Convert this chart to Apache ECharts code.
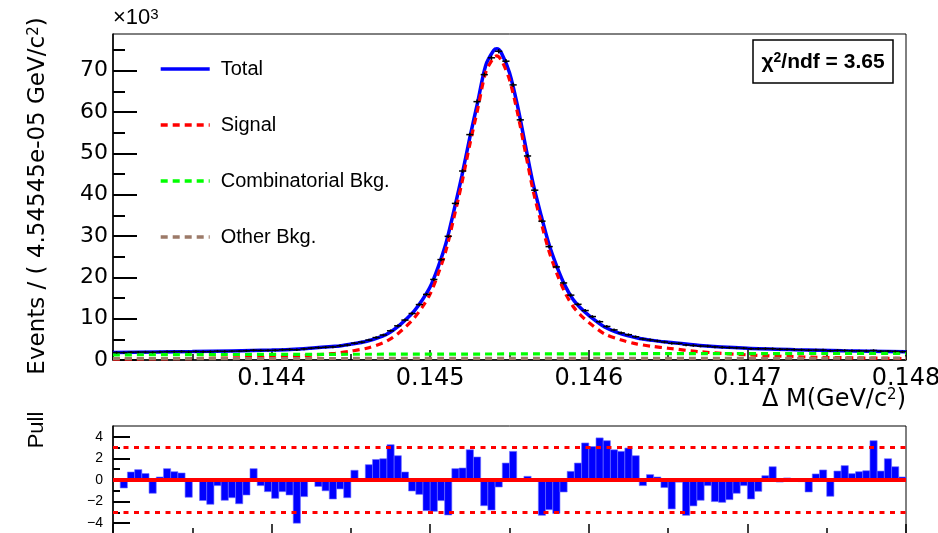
<!DOCTYPE html>
<html>
<head>
<meta charset="utf-8">
<script src="https://cdn.jsdelivr.net/npm/echarts@6/dist/echarts.min.js"></script>
<style>
html, body { margin: 0; padding: 0; background: #fff; }
#chart { width: 938px; height: 533px; }
</style>
</head>
<body>
<div id="chart"></div>
<script>
var xMin = 0.143, xMax = 0.148, binWidth = 4.54545e-05;
var font = 'Liberation Sans, Arial, Helvetica, sans-serif';
var wideFont = 'DejaVu Sans, Liberation Sans, sans-serif';

// fit curves sampled along Delta M (GeV), values in 10^3 events
var curveX = [0.1430, 0.1435, 0.1440, 0.1442, 0.1444, 0.1445, 0.1446, 0.1447, 0.14475, 0.1448,
    0.14485, 0.1449, 0.14495, 0.1450, 0.14505, 0.1451, 0.14515, 0.1452, 0.14525, 0.1453,
    0.14535, 0.1454, 0.14542, 0.14545, 0.1455, 0.14555, 0.1456, 0.14565, 0.1457, 0.14575,
    0.1458, 0.14585, 0.1459, 0.14595, 0.1460, 0.1461, 0.1462, 0.1463, 0.1464, 0.1465,
    0.1467, 0.1470, 0.1473, 0.1476, 0.1480];
var totalFit = [1.80, 2.05, 2.40, 2.75, 3.30, 3.85, 4.55, 5.80, 6.80, 8.20,
    9.90, 11.9, 14.5, 17.7, 22.5, 28.3, 36.2, 44.6, 53.9, 62.5,
    71.3, 74.9, 75.3, 74.2, 69.5, 61.6, 52.0, 42.5, 34.9, 27.9,
    22.5, 18.0, 14.7, 12.5, 10.8, 8.0, 6.4, 5.4, 4.75, 4.30,
    3.50, 2.85, 2.50, 2.25, 2.00];
var signalFit = [0.20, 0.35, 0.70, 1.05, 1.60, 2.15, 2.85, 4.10, 5.10, 6.50,
    8.20, 10.2, 12.8, 16.0, 20.8, 26.6, 34.5, 42.9, 52.2, 60.8,
    69.6, 73.2, 73.6, 72.5, 67.8, 59.9, 50.3, 40.8, 33.2, 26.2,
    20.8, 16.3, 13.0, 10.8, 9.1, 6.3, 4.9, 3.9, 3.3, 2.85,
    2.0, 1.25, 0.8, 0.55, 0.35];
var bkgX = [0.143, 0.144, 0.145, 0.146, 0.147, 0.148];
var combBkg = [1.25, 1.35, 1.42, 1.50, 1.55, 1.60];
var otherBkg = [0.35, 0.36, 0.38, 0.40, 0.42, 0.44];

// events per bin (10^3), 110 bins
var dataCounts = [1.81, 1.80, 1.89, 1.92, 1.93, 1.88, 1.96, 2.02, 2.02, 2.05,
    1.97, 2.07, 2.01, 2.03, 2.14, 2.10, 2.15, 2.16, 2.22, 2.37,
    2.32, 2.33, 2.36, 2.47, 2.53, 2.47, 2.68, 2.88, 2.98, 3.08,
    3.16, 3.43, 3.62, 4.07, 4.33, 4.82, 5.43, 6.05, 7.07, 8.27,
    9.66, 11.25, 13.41, 15.87, 19.49, 24.30, 29.93, 37.90, 45.74, 54.55,
    62.53, 69.07, 73.14, 74.72, 72.32, 66.58, 58.12, 49.38, 41.10, 33.60,
    27.44, 22.53, 18.65, 15.70, 13.48, 11.97, 10.51, 9.27, 8.12, 7.29,
    6.56, 6.13, 5.62, 5.09, 4.87, 4.62, 4.35, 4.03, 4.02, 3.65,
    3.51, 3.37, 3.36, 3.17, 3.07, 3.00, 2.93, 2.87, 2.73, 2.72,
    2.74, 2.72, 2.60, 2.57, 2.51, 2.46, 2.38, 2.42, 2.41, 2.25,
    2.32, 2.30, 2.24, 2.22, 2.20, 2.30, 2.14, 2.16, 2.10, 2.02];

var pulls = [0, -0.74, 0.74, 0.96, 0.6, -1.23, 0.28, 1.05, 0.77, 0.65,
    -1.6, 0, -1.9, -2.25, -0.52, -1.88, -1.64, -2.2, -1.39, 1.05,
    -0.52, -1.08, -1.7, -1.08, -1.39, -4.0, -1.54, -0.1, -0.6, -1.0,
    -1.76, -0.83, -1.64, 0.9, 0, 1.42, 1.9, 1.97, 3.27, 2.25,
    0.74, -1.02, -1.33, -2.84, -2.9, -1.91, -3.24, 1.05, 1.11, 2.8,
    2.13, -2.38, -2.78, -0.65, 1.57, 2.65, 0.1, 0.34, 0, -3.27,
    -2.75, -3.1, -1.11, 0.8, 1.57, 3.43, 3.1, 3.9, 3.64, 2.8,
    2.65, 2.96, 2.25, -0.52, 0.5, 0.28, -0.7, -2.68, -0.2, -3.27,
    -2.4, -1.88, -0.52, -2.0, -2.07, -1.82, -1.23, -0.52, -1.76, -1.05,
    0.4, 1.23, -0.19, 0.19, 0, -0.15, -1.11, 0.56, 0.93, -1.51,
    0.83, 1.33, 0.59, 0.77, 0.86, 3.64, 0.83, 1.97, 1.23, 0.28];

var yMajor = [0, 10, 20, 30, 40, 50, 60, 70];
var yMinor = [5, 15, 25, 35, 45, 55, 65, 75];
var pullMajor = [-4, -2, 0, 2, 4];
var pullMinor = [-3, -1, 1, 3];

function zip(a, b) {
    return a.map(function (v, i) { return [v, b[i]]; });
}

var chart = echarts.init(document.getElementById('chart'));

var tickStyle = { color: '#000', width: 1.5 };

var option = {
    animation: false,
    textStyle: { fontFamily: font },
    grid: [
        { left: 113, right: 32, top: 34, height: 326, show: true, borderColor: '#000', borderWidth: 1, outerBoundsMode: 'none', containLabel: false },
        { left: 113, right: 32, top: 426, height: 108, show: true, borderColor: '#000', borderWidth: 1, outerBoundsMode: 'none', containLabel: false }
    ],
    xAxis: [
        {
            type: 'value', gridIndex: 0, min: xMin, max: xMax, interval: 0.001,
            axisLine: { onZero: false, lineStyle: { color: '#000', width: 1.5 } },
            axisTick: { inside: true, length: 10, lineStyle: tickStyle },
            minorTick: { show: true, splitNumber: 2, length: 6, lineStyle: tickStyle },
            splitLine: { show: false },
            axisLabel: {
                showMinLabel: false, showMaxLabel: true,
                color: '#000', fontSize: 24, fontFamily: wideFont, margin: 7,
                formatter: function (v) { return v < 0.1435 ? '' : v.toFixed(3); }
            }
        },
        {
            type: 'value', gridIndex: 1, min: xMin, max: xMax, interval: 0.001,
            axisLine: { onZero: false, lineStyle: { color: '#000', width: 1.5 } },
            axisTick: { inside: true, length: 10, lineStyle: tickStyle },
            minorTick: { show: true, splitNumber: 2, length: 6, lineStyle: tickStyle },
            splitLine: { show: false },
            axisLabel: { show: false }
        }
    ],
    yAxis: [
        {
            type: 'value', gridIndex: 0, position: 'left', min: 0, max: 78.9,
            axisLine: { show: true, lineStyle: { color: '#000', width: 1.5 } },
            axisTick: { show: true, inside: true, length: 24, customValues: yMajor, lineStyle: { color: '#000', width: 2 } },
            axisLabel: { customValues: yMajor, color: '#000', fontSize: 22, fontFamily: wideFont, margin: 5 },
            splitLine: { show: false }
        },
        {
            type: 'value', gridIndex: 0, position: 'left', min: 0, max: 78.9,
            axisLine: { show: false },
            axisTick: { show: true, inside: true, length: 12, customValues: yMinor, lineStyle: { color: '#000', width: 2 } },
            axisLabel: { show: false },
            splitLine: { show: false }
        },
        {
            type: 'value', gridIndex: 1, position: 'left', min: -5, max: 5,
            axisLine: { show: true, lineStyle: { color: '#000', width: 1.5 } },
            axisTick: { show: true, inside: true, length: 17, customValues: pullMajor, lineStyle: { color: '#000', width: 2 } },
            axisLabel: {
                customValues: pullMajor, color: '#000', fontSize: 14, fontFamily: font, margin: 10,
                formatter: function (v) { return v < 0 ? '\u2212' + (-v) : String(v); }
            },
            splitLine: { show: false }
        },
        {
            type: 'value', gridIndex: 1, position: 'left', min: -5, max: 5,
            axisLine: { show: false },
            axisTick: { show: true, inside: true, length: 7, customValues: pullMinor, lineStyle: { color: '#000', width: 2 } },
            axisLabel: { show: false },
            splitLine: { show: false }
        }
    ],
    legend: {
        data: ['Total', 'Signal', 'Combinatorial Bkg.', 'Other Bkg.'],
        orient: 'vertical', left: 159, top: 58, padding: 0,
        itemWidth: 49, itemHeight: 14, itemGap: 34,
        selectedMode: false,
        itemStyle: { opacity: 0 },
        lineStyle: { width: 3.4 },
        textStyle: { color: '#000', fontSize: 20, fontFamily: font, lineHeight: 22, padding: [0, 0, 0, 6] }
    },
    series: [
        {
            name: 'Total', type: 'line', xAxisIndex: 0, yAxisIndex: 0,
            data: zip(curveX, totalFit), smooth: 0.3, symbol: 'none', z: 3,
            lineStyle: { color: '#0000ff', width: 3.5 }, itemStyle: { color: '#0000ff' }
        },
        {
            name: 'Signal', type: 'line', xAxisIndex: 0, yAxisIndex: 0,
            data: zip(curveX, signalFit), smooth: 0.3, symbol: 'none', z: 4,
            lineStyle: { color: '#ff0000', width: 3.2, type: [7, 5] }, itemStyle: { color: '#ff0000' }
        },
        {
            name: 'Combinatorial Bkg.', type: 'line', xAxisIndex: 0, yAxisIndex: 0,
            data: zip(bkgX, combBkg), smooth: true, symbol: 'none', z: 4,
            lineStyle: { color: '#00ff00', width: 3.2, type: [7, 5] }, itemStyle: { color: '#00ff00' }
        },
        {
            name: 'Other Bkg.', type: 'line', xAxisIndex: 0, yAxisIndex: 0,
            data: zip(bkgX, otherBkg), smooth: true, symbol: 'none', z: 4,
            lineStyle: { color: '#9c7a68', width: 3.2, type: [7, 5] }, itemStyle: { color: '#9c7a68' }
        },
        {
            name: 'Data', type: 'custom', xAxisIndex: 0, yAxisIndex: 0, z: 5,
            data: dataCounts.map(function (v, i) { return [xMin + (i + 0.5) * binWidth, v]; }),
            encode: { x: 0, y: 1 },
            renderItem: function (params, api) {
                var x = api.value(0), v = api.value(1);
                var err = Math.sqrt(v * 1000) / 1000;
                var left = api.coord([x - binWidth / 2, v]);
                var right = api.coord([x + binWidth / 2, v]);
                var top = api.coord([x, v + err]);
                var bottom = api.coord([x, v - err]);
                var st = { stroke: '#000', lineWidth: 1.5 };
                return {
                    type: 'group',
                    children: [
                        { type: 'line', shape: { x1: left[0], y1: left[1], x2: right[0], y2: right[1] }, style: st },
                        { type: 'line', shape: { x1: top[0], y1: top[1] - 1, x2: bottom[0], y2: bottom[1] + 1 }, style: st }
                    ]
                };
            }
        },
        {
            name: 'Pull', type: 'custom', xAxisIndex: 1, yAxisIndex: 2, z: 3,
            data: pulls.map(function (p, i) { return [xMin + i * binWidth, xMin + (i + 1) * binWidth, p]; }),
            encode: { x: [0, 1], y: 2 },
            renderItem: function (params, api) {
                var p0 = api.coord([api.value(0), 0]);
                var p1 = api.coord([api.value(1), api.value(2)]);
                return {
                    type: 'rect',
                    shape: { x: p0[0], y: Math.min(p0[1], p1[1]), width: p1[0] - p0[0], height: Math.abs(p1[1] - p0[1]) },
                    style: { fill: '#0000ff', stroke: '#6f6fff', lineWidth: 0.6 }
                };
            },
            markLine: {
                silent: true, symbol: 'none', label: { show: false }, z: 6,
                data: [
                    { yAxis: 0, lineStyle: { color: '#ff0000', width: 4, type: 'solid' } },
                    { yAxis: 3, lineStyle: { color: '#ff0000', width: 3, type: [5, 5.5] } },
                    { yAxis: -3, lineStyle: { color: '#ff0000', width: 3, type: [5, 5.5] } }
                ]
            }
        }
    ],
    graphic: [
        {
            type: 'text', left: 113, top: 7,
            style: {
                text: '\u00d710{s|3}', fill: '#000', font: '22px ' + font,
                rich: { s: { fontSize: 15, verticalAlign: 'top', fontFamily: font } }
            }
        },
        {
            type: 'text', x: 38, y: 196, rotation: Math.PI / 2,
            style: {
                text: 'Events / ( 4.54545e-05 GeV/c{s|2})', fill: '#000', font: '23px ' + wideFont,
                align: 'center', verticalAlign: 'middle',
                rich: { s: { fontSize: 15, verticalAlign: 'top', fontFamily: wideFont } }
            }
        },
        {
            type: 'text', x: 906, y: 400,
            style: {
                text: '\u0394 M(GeV/c{s|2})', fill: '#000', font: '24px ' + wideFont,
                align: 'right', verticalAlign: 'middle',
                rich: { s: { fontSize: 15, verticalAlign: 'top', fontFamily: wideFont } }
            }
        },
        {
            type: 'text', x: 37, y: 430, rotation: Math.PI / 2,
            style: { text: 'Pull', fill: '#000', font: '22px ' + font, align: 'center', verticalAlign: 'middle' }
        },
        {
            type: 'rect', shape: { x: 753, y: 40, width: 140, height: 43 },
            style: { fill: '#fff', stroke: '#000', lineWidth: 1.5 }, z: 10
        },
        {
            type: 'text', x: 823, y: 62, z: 11,
            style: {
                text: '\u03c7{s|2}/ndf = 3.65', fill: '#000', font: 'bold 21px ' + font,
                align: 'center', verticalAlign: 'middle',
                rich: { s: { fontSize: 14, fontWeight: 'bold', verticalAlign: 'top', fontFamily: font } }
            }
        }
    ]
};

chart.setOption(option);
</script>
</body>
</html>
